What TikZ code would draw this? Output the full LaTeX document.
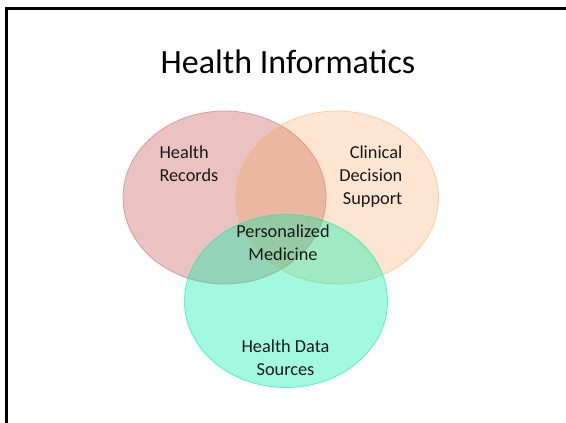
\documentclass[tikz,border=0pt]{standalone}
\usepackage{fontspec}
\setmainfont{Carlito}
\usetikzlibrary{shapes.geometric}
\definecolor{hrred}{RGB}{192,80,77}
\definecolor{cdorange}{RGB}{247,150,70}
\definecolor{hdgreen}{RGB}{0,240,170}
\tikzset{
  venn/.style={ellipse, minimum width=203pt, minimum height=173pt, inner sep=0pt, line width=0.8pt},
  lbl/.style={font=\fontsize{18.3}{23}\selectfont, inner sep=0pt, text=black!90}
}
\begin{document}
\begin{tikzpicture}[x=1pt,y=-1pt]
\useasboundingbox (0,0) rectangle (566,423);
\draw[line width=2.2pt] (6.5,423) -- (6.5,8.5) -- (566,8.5);
\node[font=\fontsize{34}{40}\selectfont, inner sep=0pt, anchor=base] (title) at (288,74) {Health Informatics};
\node[venn, fill=hrred, fill opacity=0.35, draw=hrred!80, draw opacity=0.6] (hr) at (224.5,197.5) {};
\node[venn, fill=cdorange, fill opacity=0.25, draw=cdorange!70, draw opacity=0.6] (cd) at (337,197.5) {};
\node[venn, fill=hdgreen, fill opacity=0.37, draw=hdgreen, draw opacity=0.6] (hd) at (286,301) {};
\node[lbl, align=left, anchor=base west] (hrt) at (159.3,181.5) {Health\\Records};
\node[lbl, align=right, anchor=base east] (cdt) at (402.5,204) {Clinical\\Decision\\Support};
\node[lbl, align=center, anchor=base] (pmt) at (283,260) {Personalized\\Medicine};
\node[lbl, align=center, anchor=base] (hdt) at (285.5,375) {Health Data\\Sources};
\end{tikzpicture}
\end{document}
